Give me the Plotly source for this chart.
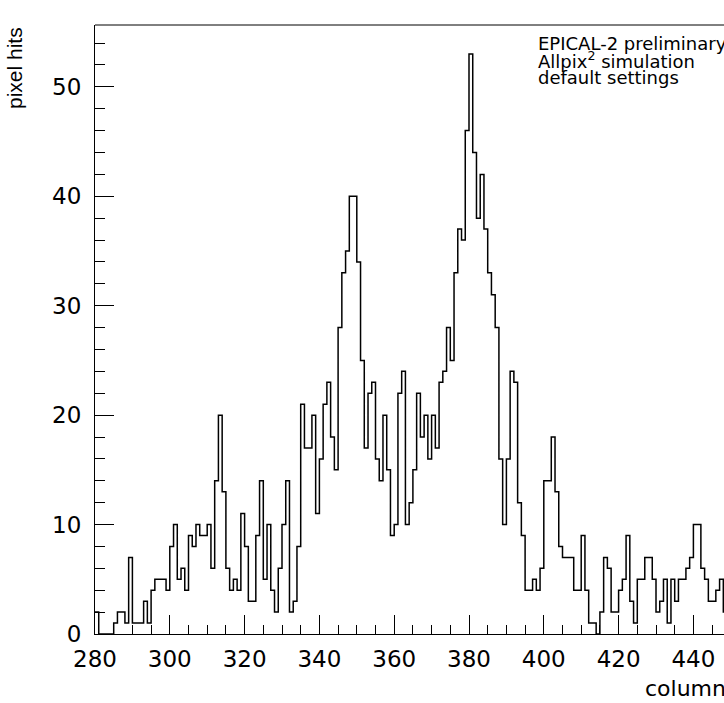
import plotly.graph_objects as go

# Histogram: pixel hits per column (bin [c, c+1))
first_column = 280
pixel_hits = [
    2, 0, 0, 0, 0, 1, 2, 2, 1, 7,          # 280-289
    1, 1, 1, 3, 1, 4, 5, 5, 5, 4,          # 290-299
    8, 10, 5, 6, 4, 9, 8, 10, 9, 9,        # 300-309
    10, 6, 14, 20, 13, 6, 4, 5, 4, 11,     # 310-319
    8, 3, 3, 9, 14, 5, 10, 4, 2, 6,        # 320-329
    10, 14, 2, 3, 8, 21, 17, 17, 20, 11,   # 330-339
    16, 21, 23, 18, 15, 28, 33, 35, 40, 40,  # 340-349
    34, 25, 17, 22, 23, 16, 14, 20, 15, 9,   # 350-359
    10, 22, 24, 10, 12, 15, 22, 18, 20, 16,  # 360-369
    20, 17, 23, 24, 28, 25, 33, 37, 36, 46,  # 370-379
    53, 44, 38, 42, 37, 33, 31, 28, 16, 10,  # 380-389
    16, 24, 23, 12, 9, 4, 4, 5, 4, 6,        # 390-399
    14, 14, 18, 13, 8, 7, 7, 7, 4, 4,        # 400-409
    9, 4, 1, 1, 0, 2, 7, 6, 2, 2,            # 410-419
    4, 5, 9, 3, 1, 5, 5, 7, 7, 5,            # 420-429
    2, 3, 5, 1, 5, 3, 5, 5, 6, 7,            # 430-439
    10, 10, 6, 5, 3, 3, 4, 5, 2,             # 440-448
]
x_tick_values = [280, 300, 320, 340, 360, 380, 400, 420, 440]
y_tick_values = [0, 10, 20, 30, 40, 50]
x_title = "column"
y_title = "pixel hits"
label_lines = ["EPICAL-2 preliminary", "Allpix<sup>2</sup> simulation", "default settings"]

edges = [first_column + i for i in range(len(pixel_hits) + 1)]
step_y = pixel_hits + [pixel_hits[-1]]

W, H = 724, 703
L, R, T, B = 95, 0, 25, 69
x_max = first_column + (W - L - R) / 3.74
y_max = max(pixel_hits) * 1.05

font = "DejaVu Sans, Verdana, sans-serif"
font_v = "Liberation Sans, Arial, Helvetica, sans-serif"

fig = go.Figure()
fig.add_trace(go.Scatter(
    x=edges, y=step_y, mode="lines", line_shape="hv",
    line=dict(color="black", width=1.5), hoverinfo="skip", showlegend=False,
))

fig.update_layout(
    width=W, height=H,
    margin=dict(l=L, r=R, t=T, b=B, pad=0),
    paper_bgcolor="white", plot_bgcolor="white",
    font=dict(family=font, color="black", size=22),
    showlegend=False,
)
fig.update_xaxes(
    range=[first_column, x_max], tickvals=x_tick_values,
    ticks="inside", ticklen=19, tickwidth=1, tickcolor="black",
    minor=dict(dtick=5, tick0=first_column, ticks="inside", ticklen=9, tickcolor="black", tickwidth=1),
    showline=True, linecolor="black", linewidth=1, showgrid=False, zeroline=False,
    tickfont=dict(size=23, family=font), ticklabelstandoff=4,
)
fig.update_yaxes(
    range=[0, y_max], tickvals=y_tick_values,
    ticks="inside", ticklen=19, tickwidth=1, tickcolor="black",
    minor=dict(dtick=2, tick0=0, ticks="inside", ticklen=10, tickcolor="black", tickwidth=1),
    showline=True, linecolor="black", linewidth=1, showgrid=False, zeroline=False,
    tickfont=dict(size=23, family=font), ticklabelstandoff=8,
)
# top frame line
fig.add_shape(type="line", xref="paper", yref="paper", x0=0, x1=1, y0=1, y1=1,
              line=dict(color="black", width=1))

# axis titles
fig.add_annotation(text=y_title, xref="paper", yref="paper", x=-(L - 14) / (W - L), y=1.0,
                   xanchor="center", yanchor="top", textangle=-90, showarrow=False,
                   font=dict(size=21, family=font_v))
fig.add_annotation(text=x_title, xref="paper", yref="paper", x=(643 - L) / (W - L),
                   y=-(688 - (H - B)) / (H - T - B), xanchor="left", yanchor="middle",
                   showarrow=False, font=dict(size=22, family=font))

# label text
plot_h = H - T - B
for i, line in enumerate(label_lines):
    y_px = 44 + i * 16.5
    fig.add_annotation(text=line, xref="paper", yref="paper", x=(536 - L) / (W - L),
                       y=1 - (y_px - T) / plot_h, xanchor="left", yanchor="middle",
                       showarrow=False, font=dict(size=18, family=font))

fig.write_html(
    "out.html",
    config={"displayModeBar": False, "staticPlot": True},
    post_script="document.body.style.margin='0';document.body.style.padding='0';document.body.style.overflow='hidden';",
)
